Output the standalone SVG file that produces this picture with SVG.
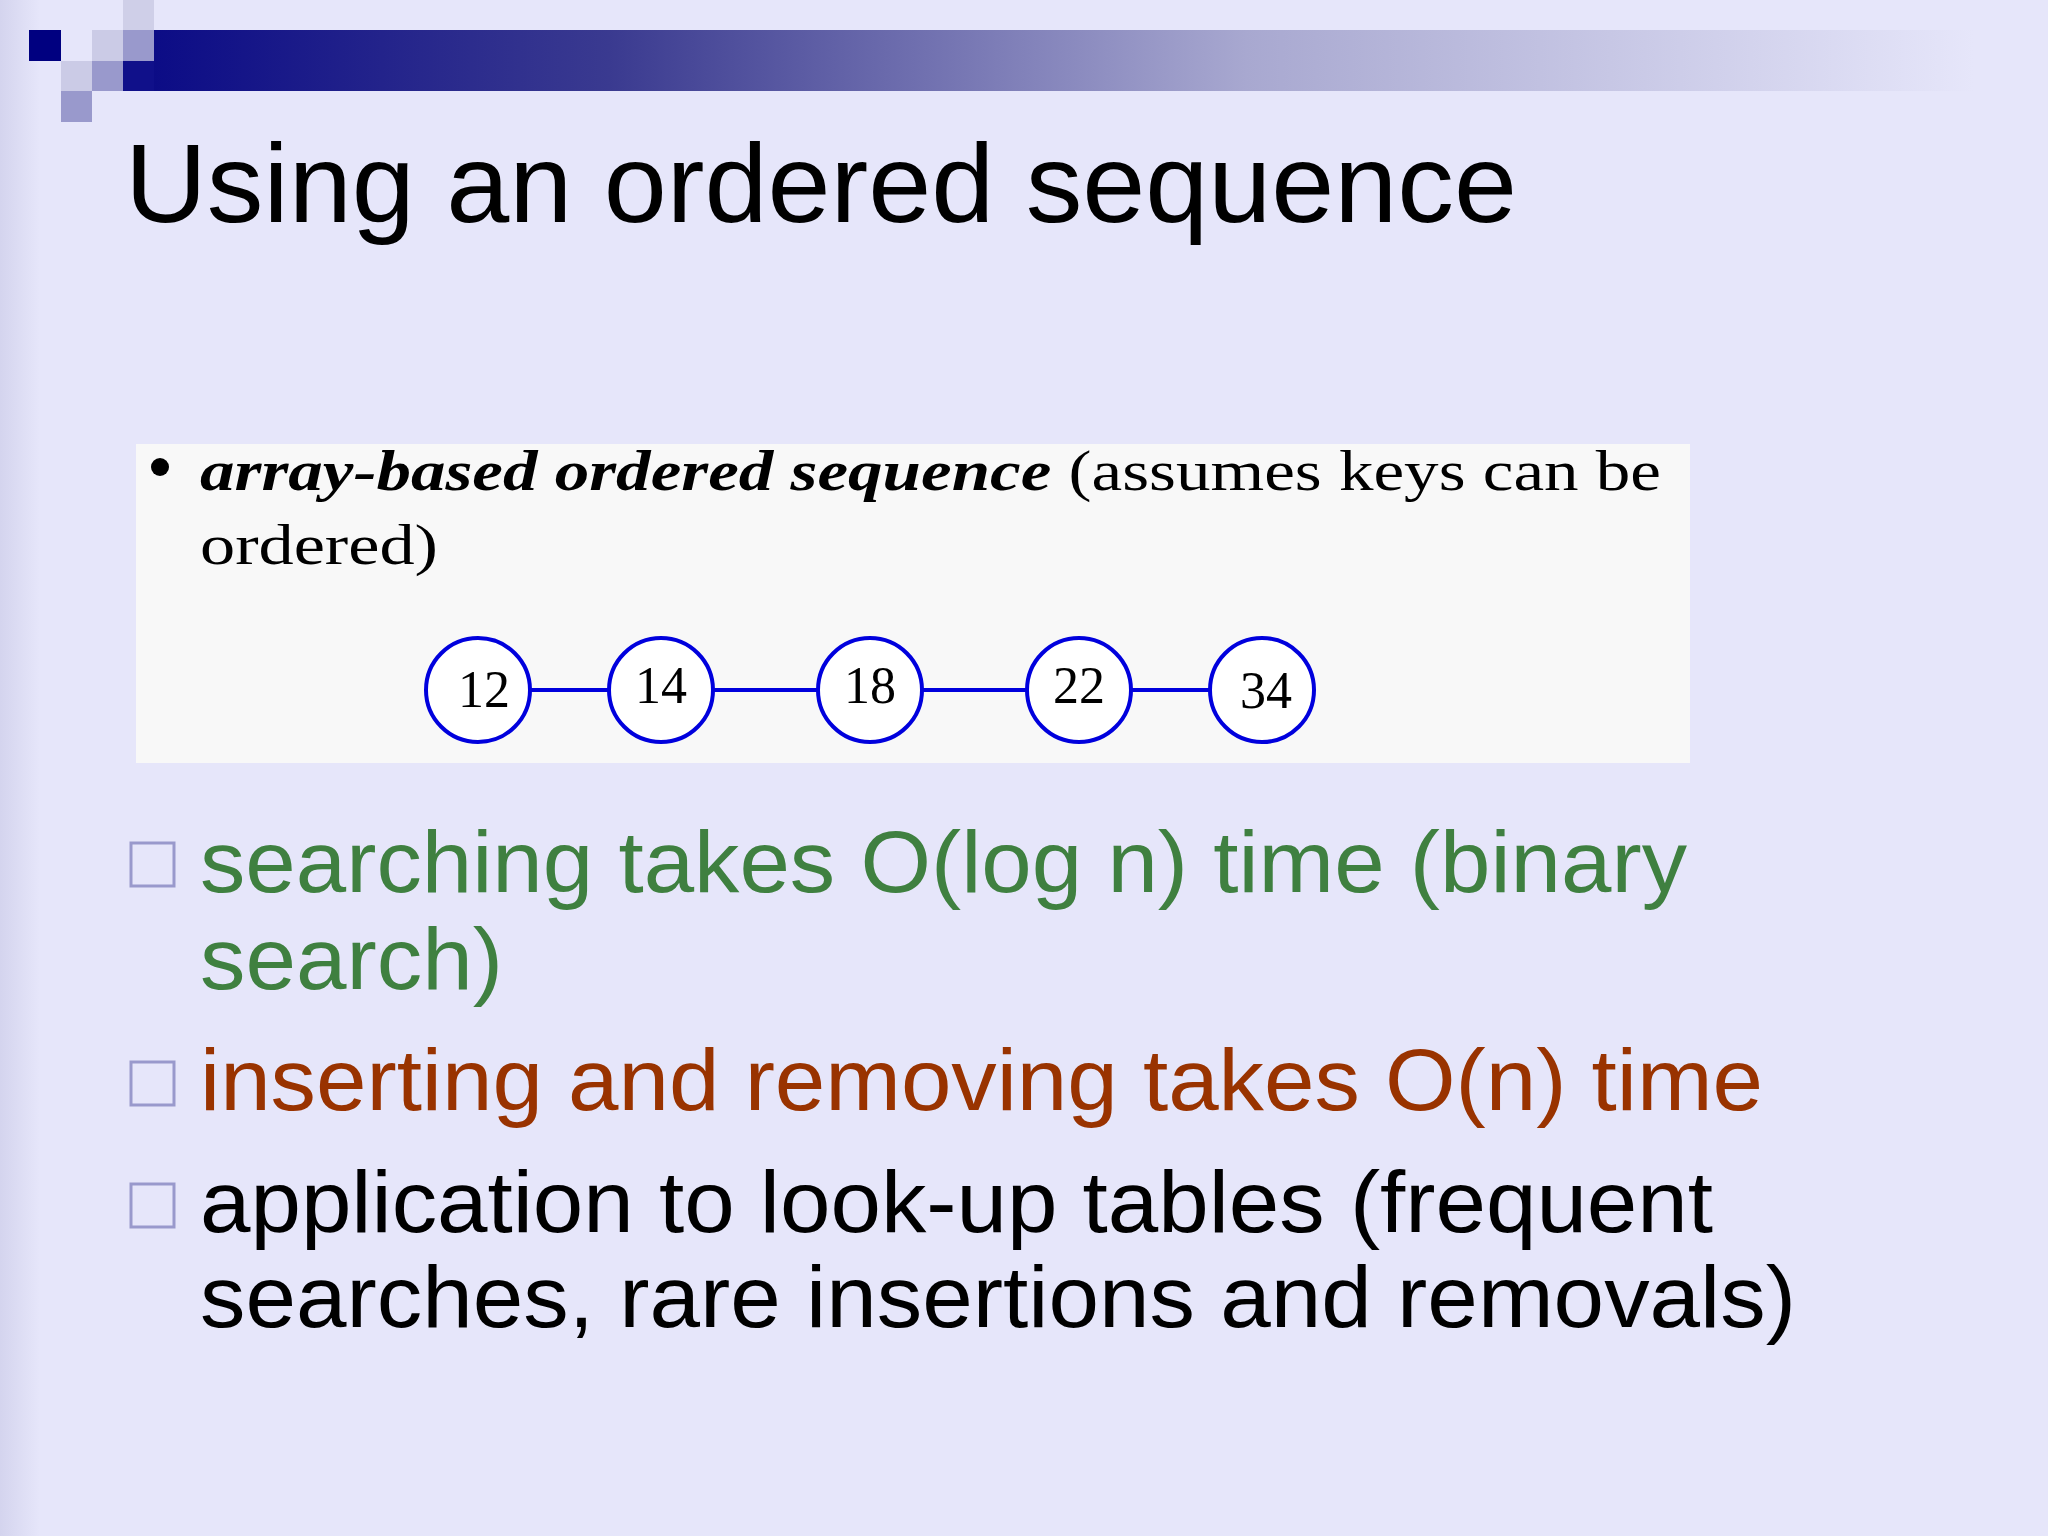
<svg xmlns="http://www.w3.org/2000/svg" width="2048" height="1536" viewBox="0 0 2048 1536">
<defs>
<linearGradient id="bar" x1="0" y1="0" x2="1" y2="0">
<stop offset="0" stop-color="#0c0c86"/>
<stop offset="0.25" stop-color="#3a3a90"/>
<stop offset="0.6" stop-color="#a8a8d0"/>
<stop offset="1" stop-color="#e6e6fa"/>
</linearGradient>
<linearGradient id="left" x1="0" y1="0" x2="1" y2="0">
<stop offset="0" stop-color="#d4d4ee"/>
<stop offset="1" stop-color="#e6e6fa"/>
</linearGradient>
<style>
.c{fill:#fff;stroke:#0000dd;stroke-width:4}
.n{font-family:"Liberation Serif",serif;font-size:52px;text-anchor:middle}
.b{fill:none;stroke:#9999cc;stroke-width:3}
.t{font-family:"Liberation Sans",Arial,sans-serif;font-size:88px}
</style>
</defs>
<rect width="2048" height="1536" fill="#e6e6fa"/>
<rect width="40" height="1536" fill="url(#left)"/>
<g id="corner">
<rect x="123" y="0" width="31" height="30" fill="#cfcfe8"/>
<rect x="29" y="30" width="32" height="31" fill="#000080"/>
<rect x="92" y="30" width="31" height="31" fill="#cbcbe6"/>
<rect x="123" y="30" width="31" height="31" fill="#9999cc"/>
<rect x="61" y="61" width="31" height="30" fill="#cbcbe6"/>
<rect x="92" y="61" width="31" height="30" fill="#9999cc"/>
<rect x="61" y="91" width="31" height="31" fill="#9999cc"/>
<rect x="123" y="61" width="31" height="30" fill="#10108a"/>
<rect x="154" y="30" width="1820" height="61" fill="url(#bar)"/>
</g>
<text x="125" y="222" font-family="Liberation Sans,Arial,sans-serif" font-size="112" textLength="1392" lengthAdjust="spacingAndGlyphs">Using an ordered sequence</text>
<g id="figure">
<rect x="136" y="444" width="1554" height="319" fill="#f8f8f8"/>
<circle cx="160" cy="467" r="9" fill="#000"/>
<text x="200" y="490" font-family="Liberation Serif,serif" font-size="56" textLength="1461" lengthAdjust="spacingAndGlyphs"><tspan font-weight="bold" font-style="italic">array-based ordered sequence</tspan> (assumes keys can be</text>
<text x="200" y="564" font-family="Liberation Serif,serif" font-size="58" textLength="238" lengthAdjust="spacingAndGlyphs">ordered)</text>
<g id="connectors" stroke="#0000dd" stroke-width="4">
<line x1="530" y1="690" x2="609" y2="690"/>
<line x1="713" y1="690" x2="818" y2="690"/>
<line x1="922" y1="690" x2="1027" y2="690"/>
<line x1="1131" y1="690" x2="1210" y2="690"/>
</g>
<g id="n12"><circle class="c" cx="478" cy="690" r="52"/><text class="n" x="484" y="707">12</text></g>
<g id="n14"><circle class="c" cx="661" cy="690" r="52"/><text class="n" x="661" y="703">14</text></g>
<g id="n18"><circle class="c" cx="870" cy="690" r="52"/><text class="n" x="870" y="703">18</text></g>
<g id="n22"><circle class="c" cx="1079" cy="690" r="52"/><text class="n" x="1079" y="703">22</text></g>
<g id="n34"><circle class="c" cx="1262" cy="690" r="52"/><text class="n" x="1266" y="708">34</text></g>
</g>
<g id="bullets">
<rect class="b" x="131" y="843" width="43" height="43"/>
<rect class="b" x="131" y="1062" width="43" height="43"/>
<rect class="b" x="131" y="1184" width="43" height="43"/>
<text class="t" x="200" y="892" fill="#3f8040" textLength="1487" lengthAdjust="spacingAndGlyphs">searching takes O(log n) time (binary</text>
<text class="t" x="200" y="989" fill="#3f8040" textLength="303" lengthAdjust="spacingAndGlyphs">search)</text>
<text class="t" x="200" y="1110" fill="#993300" textLength="1563" lengthAdjust="spacingAndGlyphs">inserting and removing takes O(n) time</text>
<text class="t" x="200" y="1232" fill="#000" textLength="1513" lengthAdjust="spacingAndGlyphs">application to look-up tables (frequent</text>
<text class="t" x="200" y="1327" fill="#000" textLength="1596" lengthAdjust="spacingAndGlyphs">searches, rare insertions and removals)</text>
</g>
</svg>
